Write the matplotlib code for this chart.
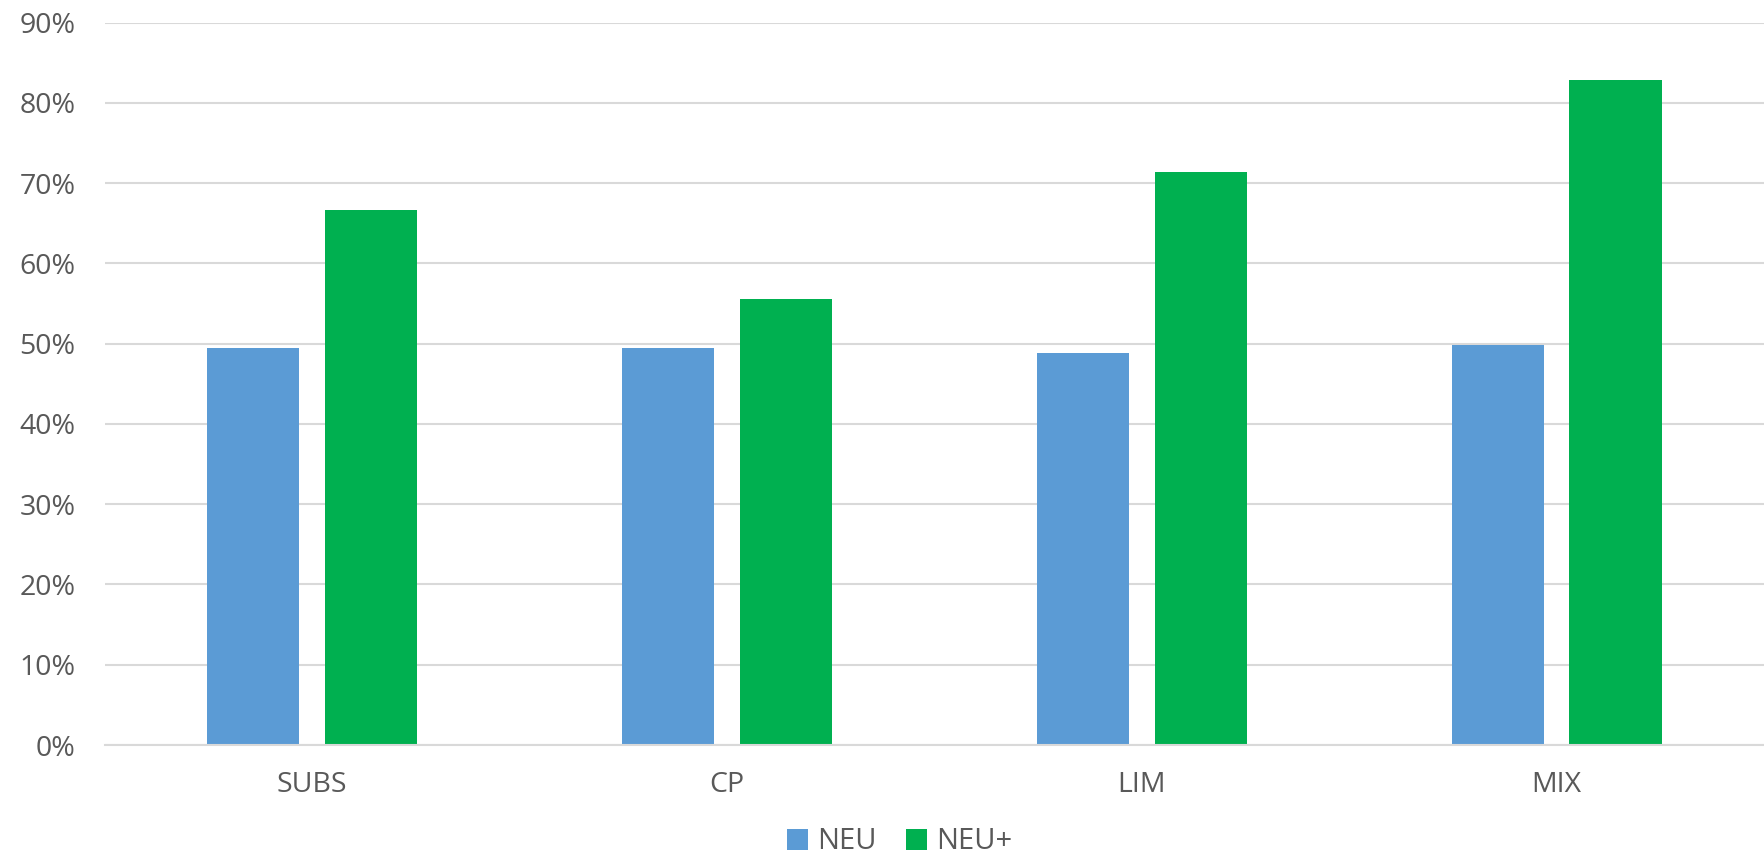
import numpy as np
import matplotlib
matplotlib.use("Agg")
import matplotlib.pyplot as plt
from matplotlib.ticker import PercentFormatter

# ── Data ──────────────────────────────────────────────────────────────────────
categories = ["SUBS", "CP", "LIM", "MIX"]
neu_values = [49.5, 49.4, 48.8, 49.8]
neu_plus_values = [66.6, 55.6, 71.4, 82.8]
y_ticks = [0, 10, 20, 30, 40, 50, 60, 70, 80, 90]

# ── Style ─────────────────────────────────────────────────────────────────────
BLUE = "#5B9BD5"
GREEN = "#00B050"
GRID = "#D9D9D9"
TEXT = "#595959"
BAR_W = 0.222
OFFSET = 0.142

plt.rcParams["font.family"] = ["Open Sans", "DejaVu Sans"]

fig = plt.figure(figsize=(17.64, 8.59), dpi=100)
ax = fig.add_axes([0.0593, 0.1327, 0.9407, 0.9738 - 0.1327])

x = np.arange(len(categories))
ax.bar(x - OFFSET, neu_values, width=BAR_W, color=BLUE, label="NEU", zorder=3)
ax.bar(x + OFFSET, neu_plus_values, width=BAR_W, color=GREEN, label="NEU+", zorder=3)

ax.set_xlim(-0.5, len(categories) - 0.5)
ax.set_ylim(0, 90)
ax.set_yticks(y_ticks)
ax.yaxis.set_major_formatter(PercentFormatter(decimals=0))
ax.set_xticks(x)
ax.set_xticklabels(categories)

ax.grid(axis="y", color=GRID, linewidth=1.5, zorder=0)
for side in ["top", "right", "left"]:
    ax.spines[side].set_visible(False)
ax.spines["bottom"].set_color(GRID)
ax.spines["bottom"].set_linewidth(1.5)
ax.spines["bottom"].set_zorder(4)

ax.tick_params(axis="both", length=0, labelsize=20.5, labelcolor=TEXT)
ax.tick_params(axis="y", pad=21)
ax.tick_params(axis="x", pad=19)

fig.legend(
    loc="center",
    bbox_to_anchor=(0.51, 0.02),
    ncol=2,
    frameon=False,
    fontsize=21,
    labelcolor=TEXT,
    handlelength=0.72,
    handleheight=0.72,
    handletextpad=0.3,
    columnspacing=1.0,
    borderpad=0.1,
)

plt.savefig("out.png", dpi=100, facecolor="white")
plt.close(fig)
